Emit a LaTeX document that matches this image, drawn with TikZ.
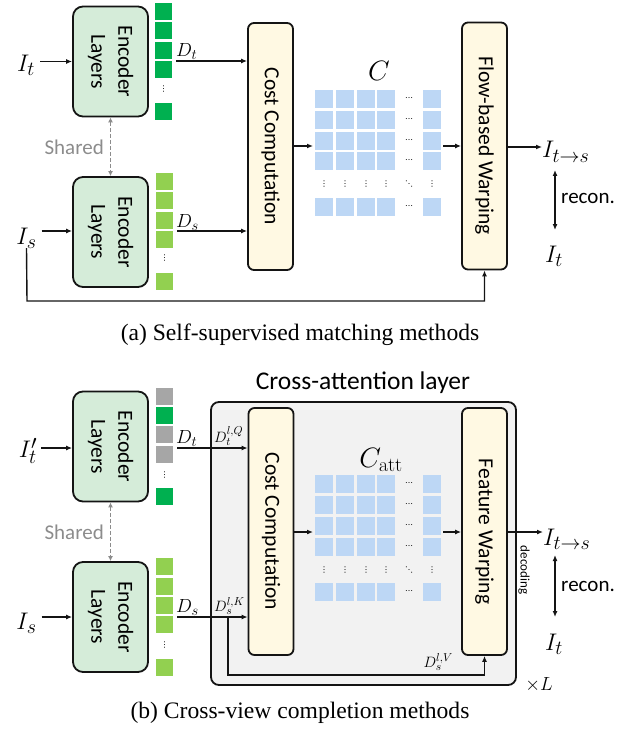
\RequirePackage{fix-cm}
\documentclass[tikz,border=0pt]{standalone}
\usepackage[no-math]{fontspec}
\setmainfont{Liberation Serif}
\newfontfamily\calibri{Carlito}
\newfontfamily\dejavu{DejaVu Sans}
\usetikzlibrary{arrows.meta}
\DeclareMathSizes{24}{24}{20}{15}
\DeclareMathSizes{19}{19}{14.5}{11}
\DeclareMathSizes{15}{15}{11.5}{9}
\DeclareMathSizes{28}{28}{20}{15}
\definecolor{encfill}{RGB}{213,236,217}
\definecolor{costfill}{RGB}{255,249,227}
\definecolor{gridblue}{RGB}{189,215,245}
\definecolor{dkgreen}{RGB}{0,176,80}
\definecolor{ltgreen}{RGB}{146,208,80}
\definecolor{sqgray}{RGB}{166,166,166}
\definecolor{boxgray}{RGB}{242,242,242}
\definecolor{sharegray}{RGB}{140,140,140}
\definecolor{edge}{RGB}{20,20,20}
\begin{document}
\begin{tikzpicture}[x=1pt,y=-1pt,
  encbox/.style={draw=edge, line width=1.8pt, fill=encfill, rounded corners=10pt, minimum width=75pt, minimum height=110pt, inner sep=0pt},
  procbox/.style={draw=edge, line width=1.8pt, fill=costfill, rounded corners=6pt, minimum width=45pt, minimum height=247pt, inner sep=0pt},
  vtext/.style={rotate=-90, font=\calibri\fontsize{21.5}{27}\selectfont, align=center, inner sep=0pt},
  sans/.style={font=\calibri\fontsize{21}{25}\selectfont, inner sep=0pt},
  arr/.style={line width=1.4pt, draw=edge, -{Latex[length=6pt,width=5pt]}},
  darr/.style={line width=1.4pt, draw=edge, {Latex[length=6pt,width=5pt]}-{Latex[length=6pt,width=5pt]}},
  sharedarr/.style={line width=1.4pt, draw=sharegray, dash pattern=on 4pt off 2pt, {Latex[length=5pt,width=5pt]}-{Latex[length=5pt,width=5pt]}},
  mlab/.style={inner sep=0pt, font=\fontsize{24}{24}\selectfont},
  dlab/.style={inner sep=0pt, font=\fontsize{19}{19}\selectfont},
  dsup/.style={inner sep=0pt, font=\fontsize{15}{15}\selectfont},
  clab/.style={inner sep=0pt, font=\fontsize{28}{28}\selectfont},
  dotf/.style={inner sep=0pt, font=\dejavu\fontsize{8}{8}\selectfont},
  captext/.style={inner sep=0pt, font=\fontsize{23.6}{24}\selectfont}
]
\useasboundingbox (0,0) rectangle (628,730);

% ================= (a) =================
\node[encbox] (enc1) at (110.5,61.5) {};
\node[vtext] (enc1t) at (enc1) {Encoder\\Layers};
\node[encbox] (enc2) at (110.5,232) {};
\node[vtext] (enc2t) at (enc2) {Encoder\\Layers};

\foreach \yy in {3,22,42,61,103} \fill[dkgreen] (155,\yy) rectangle ++(17,17);
\node[dotf] (dots1) at (163.5,89) {⋮};
\foreach \yy in {173,192,212,231,273} \fill[ltgreen] (156,\yy) rectangle ++(17,17);
\node[dotf] (dots2) at (164.5,258) {⋮};

\node[mlab] (it1) at (26,65) {$I_t$};
\node[mlab] (is1) at (26.5,238) {$I_s$};
\draw[arr] ([xshift=5pt]it1.east |- enc1.west) -- (enc1.west);
\draw[arr] ([xshift=5pt]is1.east |- 0,231) -- (enc2.west |- 0,231);

\draw[sharedarr] (enc1.south) -- (enc2.north);
\node[sans, text=sharegray, anchor=east] (sh1) at (104,147) {Shared};

\node[procbox] (cost1) at (270.5,146.5) {};
\node[vtext] (cost1t) at (cost1) {Cost Computation};
\node[procbox] (flow) at (484.5,146) {};
\node[vtext] (flowt) at (flow) {Flow-based Warping};

\coordinate (dt1) at (176,61);
\coordinate (ds1) at (177,231);
\draw[arr] (dt1) -- (dt1 -| cost1.west);
\draw[arr] (ds1) -- (ds1 -| cost1.west);
\node[dlab, anchor=south west] (dt1l) at (176,60) {$D_t$};
\node[dlab, anchor=south west] (ds1l) at (176,231) {$D_s$};

% grid 1
\foreach \xx in {315,336,357,377,423}
  \foreach \yy in {90,111,132,152,198}
    \fill[gridblue] (\xx,\yy) rectangle ++(18,18);
\foreach \yy in {90,111,132,152,198} \node[dotf] at (409,\yy+9) {⋯};
\foreach \xx in {315,336,357,377,423} \node[dotf] at (\xx+9,184) {⋮};
\node[dotf] (dd1) at (409,184) {⋱};
\node[clab] (c1) at (379,71) {$C$};
\coordinate (g1w) at (313,146);
\coordinate (g1e) at (443,146);
\draw[arr] (cost1.east |- g1w) -- (g1w);
\draw[arr] (g1e) -- (g1e -| flow.west);

\node[mlab, anchor=base west] (its1) at (542,158) {$I_{t\to s}$};
\draw[arr] (flow.east |- 0,147) -- (its1.west |- 0,147);
\coordinate (r1a) at (555,170);
\coordinate (r1b) at (555,230);
\draw[darr] (r1a) -- (r1b);
\node[sans, anchor=west] (rc1) at (561,198) {recon.};
\node[mlab] (itb1) at (554,256) {$I_t$};

\coordinate (fb1) at (27,301);
\draw[arr] (is1.south) -- (fb1) -| (flow.south);

\node[captext] (capa) at (300,335) {(a) Self-supervised matching methods};

% ================= (b) =================
\node[draw=edge, line width=1.8pt, fill=boxgray, rounded corners=8pt, minimum width=305pt, minimum height=283pt, inner sep=0pt] (calayer) at (363.5,543.5) {};
\node[font=\calibri\fontsize{25.5}{30}\selectfont, inner sep=0pt] (catitle) at (363,383) {Cross-attention layer};
\node[inner sep=0pt, font=\fontsize{19}{19}\selectfont] (xl) at (539,685) {$\times L$};

\node[encbox] (enc3) at (110.5,446.5) {};
\node[vtext] (enc3t) at (enc3) {Encoder\\Layers};
\node[encbox] (enc4) at (110.5,617) {};
\node[vtext] (enc4t) at (enc4) {Encoder\\Layers};

\fill[sqgray] (156,388) rectangle ++(17,17);
\fill[dkgreen] (156,407) rectangle ++(17,17);
\fill[sqgray] (156,426) rectangle ++(17,17);
\fill[sqgray] (156,446) rectangle ++(17,17);
\fill[dkgreen] (156,488) rectangle ++(17,17);
\node[dotf] (dots3) at (164.5,475) {⋮};
\foreach \yy in {558,578,597,616,659} \fill[ltgreen] (156,\yy) rectangle ++(17,17);
\node[dotf] (dots4) at (164.5,645) {⋮};

\node[mlab] (it2) at (28,451) {$I'_t$};
\node[mlab] (is2) at (26.5,623) {$I_s$};
\draw[arr] ([xshift=4pt]it2.east |- 0,448) -- (enc3.west |- 0,448);
\draw[arr] ([xshift=5pt]is2.east |- 0,617) -- (enc4.west |- 0,617);

\draw[sharedarr] (enc3.south) -- (enc4.north);
\node[sans, text=sharegray, anchor=east] (sh2) at (104,532) {Shared};

\node[procbox] (cost2) at (271,531.5) {};
\node[vtext] (cost2t) at (cost2) {Cost Computation};
\node[procbox] (feat) at (484.5,531.5) {};
\node[vtext] (featt) at (feat) {Feature Warping};

\coordinate (dt2) at (177,448);
\coordinate (ds2) at (177,617);
\draw[arr] (dt2) -- (dt2 -| cost2.west);
\draw[arr] (ds2) -- (ds2 -| cost2.west);
\node[dlab, anchor=south west] (dt2l) at (176,447) {$D_t$};
\node[dlab, anchor=south west] (ds2l) at (176,616) {$D_s$};
\node[dsup, anchor=south west] (dq) at (214,446) {$D_t^{l,Q}$};
\node[dsup, anchor=south west] (dk) at (214,615) {$D_s^{l,K}$};
\node[dsup, anchor=south east] (dv) at (453,671) {$D_s^{l,V}$};

\coordinate (vs) at (228,617);
\coordinate (vb) at (228,675);
\draw[arr] (vs) -- (vb) -| (feat.south);

% grid 2
\foreach \xx in {315,336,357,377,423}
  \foreach \yy in {475,496,517,538,583}
    \fill[gridblue] (\xx,\yy) rectangle ++(18,18);
\foreach \yy in {475,496,517,538,583} \node[dotf] at (409,\yy+9) {⋯};
\foreach \xx in {315,336,357,377,423} \node[dotf] at (\xx+9,570) {⋮};
\node[dotf] (dd2) at (409,570) {⋱};
\node[clab] (c2) at (381,460) {$C_{\mathrm{att}}$};
\coordinate (g2w) at (313,532);
\coordinate (g2e) at (443,532);
\draw[arr] (cost2.east |- g2w) -- (g2w);
\draw[arr] (g2e) -- (g2e -| feat.west);

\node[mlab, anchor=base west] (its2) at (543,545) {$I_{t\to s}$};
\draw[arr] (feat.east |- 0,532) -- (its2.west |- 0,532);
\node[rotate=-90, font=\calibri\fontsize{13}{13}\selectfont, inner sep=0pt] (dec) at (524,570) {decoding};
\coordinate (r2a) at (555,555);
\coordinate (r2b) at (555,617);
\draw[darr] (r2a) -- (r2b);
\node[sans, anchor=west] (rc2) at (561,586) {recon.};
\node[mlab] (itb2) at (554,644) {$I_t$};

\node[captext] (capb) at (300,713) {(b) Cross-view completion methods};
\end{tikzpicture}
\end{document}
